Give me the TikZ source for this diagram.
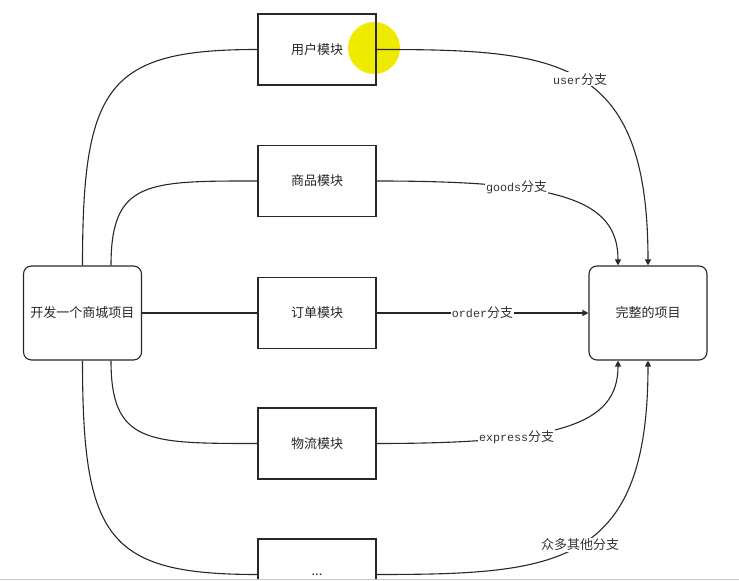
\documentclass[tikz,border=0pt]{standalone}
\usepackage{fontspec}
\setmainfont{Noto Sans CJK SC}
\newfontfamily\monofont[Scale=0.9]{Liberation Mono}
\usepackage{xcolor}
\usetikzlibrary{positioning, calc, arrows.meta}

\definecolor{linegray}{RGB}{40,40,40}
\definecolor{hiyellow}{RGB}{238,234,0}
\definecolor{edgegray}{RGB}{200,200,200}
\newcommand{\branchname}[1]{{\monofont #1}分支}

\begin{document}
\begin{tikzpicture}[x=1pt, y=1pt, >={Triangle[length=6pt,width=6pt]},
    module/.style={draw=linegray, line width=1.1pt, minimum width=118pt, minimum height=71pt,
        inner sep=0pt, text=black!85, font=\fontsize{13}{16}\selectfont},
    project/.style={module, rounded corners=8pt, minimum height=94pt},
    link/.style={draw=linegray, line width=1.1pt},
    branchlabel/.style={fill=white, inner sep=1pt, text=black!80, font=\fontsize{13}{16}\selectfont}]

        \clip (0,0) rectangle (739,581);

        % ==========================================
        % Cursor highlight
        % ==========================================
        \fill[hiyellow] (374,533) circle (26);

        % ==========================================
        % Nodes
        % ==========================================
        \node[project] (dev) at (82.5,268) {开发一个商城项目};
        \node[project] (done) at (648,268) {完整的项目};

        \node[module] (user) at (317,531.5) {用户模块};
        \node[module] (goods) at (317,400) {商品模块};
        \node[module] (order) at (317,268) {订单模块};
        \node[module] (express) at (317,137.5) {物流模块};
        \node[module] (more) at (317,6.5) {...};

        % ==========================================
        % Left side: project -> modules
        % ==========================================
        \draw[link] (dev.north) .. controls +(0,180) and +(-150,0) .. (user.west);
        \draw[link] ([xshift=28.5pt]dev.north) .. controls +(0,85) and +(-110,0) .. (goods.west);
        \draw[link] (dev.east) -- (order.west);
        \draw[link] ([xshift=28.5pt]dev.south) .. controls +(0,-83) and +(-110,0) .. (express.west);
        \draw[link] (dev.south) .. controls +(0,-178) and +(-150,0) .. (more.west);

        % ==========================================
        % Right side: branches -> complete project
        % ==========================================
        \draw[link,->] (user.east) .. controls +(181,0) and +(0,209) ..
            node[branchlabel] {\branchname{user}} (done.north);
        \draw[link,->] (goods.east) .. controls +(184,0) and +(0,66) ..
            node[branchlabel, pos=0.32] {\branchname{goods}} ([xshift=-30pt]done.north);
        \draw[link,->] (order.east) -- node[branchlabel] {\branchname{order}} (done.west);
        \draw[link,->] (express.east) .. controls +(184,0) and +(0,-64) ..
            node[branchlabel, pos=0.32] {\branchname{express}} ([xshift=-30pt]done.south);
        \draw[link,->] (more.east) .. controls +(181,0) and +(0,-206) ..
            node[branchlabel] {众多其他分支} (done.south);

        % Bottom edge
        \fill[white] (0,0) rectangle (739,1.5);
        \draw[edgegray, line width=1pt] (0,1.5) -- (739,1.5);

\end{tikzpicture}
\end{document}
